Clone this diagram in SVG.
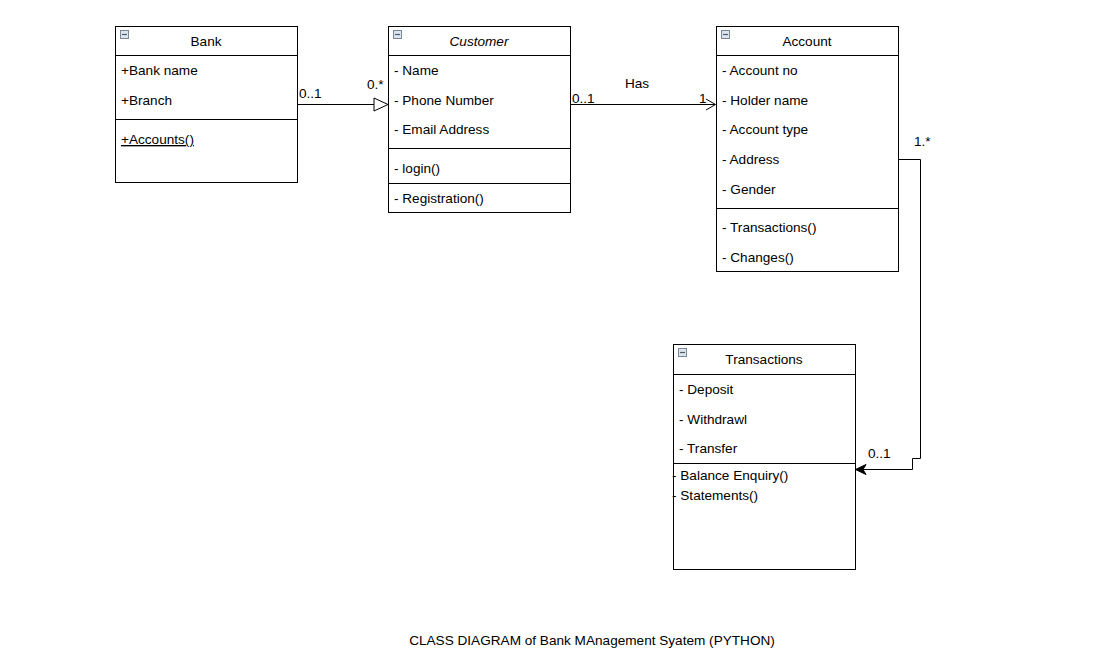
<svg xmlns="http://www.w3.org/2000/svg" width="1095" height="668" viewBox="0 0 1095 668">
<style>
.box{fill:#fff;stroke:#000;stroke-width:1}
.ln{stroke:#000;stroke-width:1;fill:none}
text{font-family:"Liberation Sans",Arial,sans-serif;font-size:13.6px;fill:#000}
.t{text-anchor:middle}
.ico{fill:#dde4ee;stroke:#7a8797;stroke-width:1}
</style>
<defs>
<g id="icon"><rect class="ico" x="0.5" y="0.5" width="8" height="8"/><line x1="2" y1="4.5" x2="7" y2="4.5" stroke="#4d5a6a" stroke-width="1.2"/></g>
</defs>
<rect width="1095" height="668" fill="#fff"/>
<g id="bank">
<rect class="box" x="115.5" y="26.5" width="182" height="156"/>
<line class="ln" x1="115.5" y1="55.5" x2="297.5" y2="55.5"/>
<line class="ln" x1="115.5" y1="119.5" x2="297.5" y2="119.5"/>
<use href="#icon" x="120" y="30"/>
<text class="t" x="206" y="46">Bank</text>
<text x="121" y="75">+Bank name</text>
<text x="121" y="105">+Branch</text>
<text x="121" y="144" text-decoration="underline">+Accounts()</text>
</g>
<g id="customer">
<rect class="box" x="388.5" y="26.5" width="182" height="186"/>
<line class="ln" x1="388.5" y1="55.5" x2="570.5" y2="55.5"/>
<line class="ln" x1="388.5" y1="148.5" x2="570.5" y2="148.5"/>
<line class="ln" x1="388.5" y1="183.5" x2="570.5" y2="183.5"/>
<use href="#icon" x="393" y="30"/>
<text class="t" x="479" y="46" font-style="italic">Customer</text>
<text x="394" y="75">- Name</text>
<text x="394" y="105">- Phone Number</text>
<text x="394" y="134">- Email Address</text>
<text x="394" y="173">- login()</text>
<text x="394" y="203">- Registration()</text>
</g>
<g id="account">
<rect class="box" x="716.5" y="26.5" width="182" height="245"/>
<line class="ln" x1="716.5" y1="55.5" x2="898.5" y2="55.5"/>
<line class="ln" x1="716.5" y1="208.5" x2="898.5" y2="208.5"/>
<use href="#icon" x="721" y="30"/>
<text class="t" x="807" y="46">Account</text>
<text x="722" y="75">- Account no</text>
<text x="722" y="105">- Holder name</text>
<text x="722" y="134">- Account type</text>
<text x="722" y="164">- Address</text>
<text x="722" y="194">- Gender</text>
<text x="722" y="232">- Transactions()</text>
<text x="722" y="262">- Changes()</text>
</g>
<g id="transactions">
<rect class="box" x="673.5" y="344.5" width="182" height="225"/>
<line class="ln" x1="673.5" y1="374.5" x2="855.5" y2="374.5"/>
<line class="ln" x1="673.5" y1="463.5" x2="855.5" y2="463.5"/>
<use href="#icon" x="678" y="348"/>
<text class="t" x="764" y="364">Transactions</text>
<text x="679" y="394">- Deposit</text>
<text x="679" y="424">- Withdrawl</text>
<text x="679" y="453">- Transfer</text>
<text x="672" y="480">- Balance Enquiry()</text>
<text x="672" y="500">- Statements()</text>
</g>
<g id="connectors">
<line class="ln" x1="297.5" y1="104.5" x2="374" y2="104.5"/>
<path d="M374,98 L388,104.5 L374,111 Z" fill="#fff" stroke="#000" stroke-width="1"/>
<text x="299" y="98">0..1</text>
<text x="367" y="89">0.*</text>
<line class="ln" x1="570.5" y1="104.5" x2="715" y2="104.5"/>
<path class="ln" d="M706,99 L715.5,104.5 L706,110"/>
<text x="572" y="103">0..1</text>
<text class="t" x="637" y="88">Has</text>
<text x="699" y="103">1</text>
<path class="ln" d="M898.5,159.5 H920.5 V458.5 H912.5 V469.5 H863"/>
<path d="M855.5,469.5 L866,464.5 L863,469.5 L866,474.5 Z" fill="#000" stroke="#000" stroke-width="1"/>
<text x="914" y="146">1.*</text>
<text x="868" y="458">0..1</text>
</g>
<text class="t" x="592" y="645">CLASS DIAGRAM of Bank MAnagement Syatem (PYTHON)</text>
</svg>
